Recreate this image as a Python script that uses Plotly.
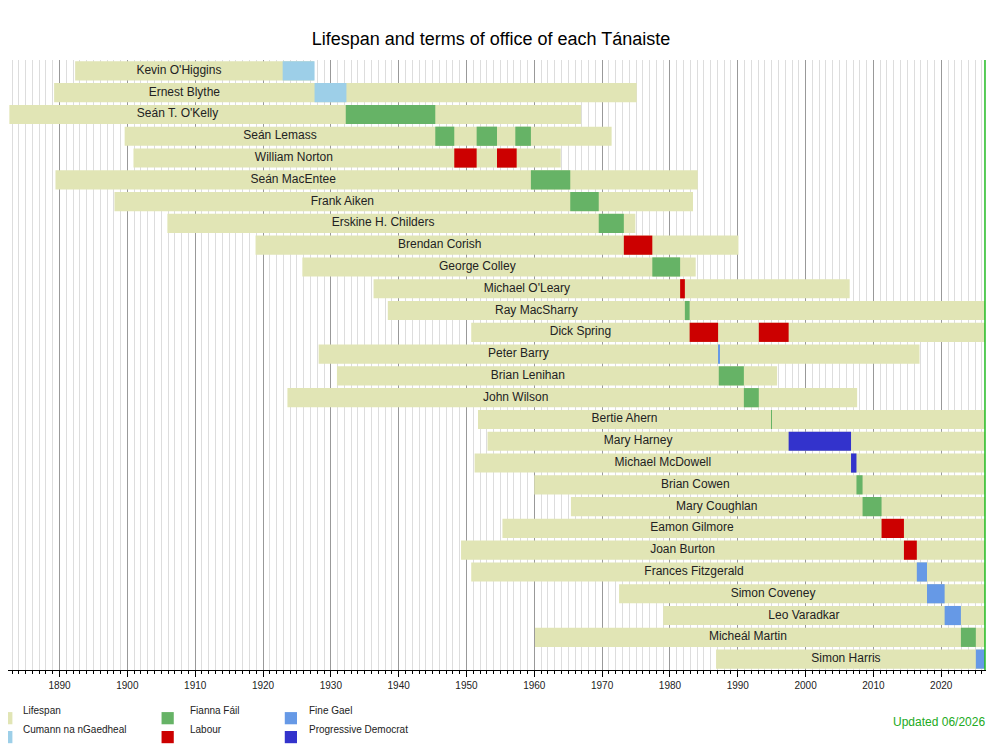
import plotly.graph_objects as go

names = ["Kevin O'Higgins","Ernest Blythe","Seán T. O'Kelly","Seán Lemass","William Norton","Seán MacEntee",
         "Frank Aiken","Erskine H. Childers","Brendan Corish","George Colley","Michael O'Leary","Ray MacSharry",
         "Dick Spring","Peter Barry","Brian Lenihan","John Wilson","Bertie Ahern","Mary Harney","Michael McDowell",
         "Brian Cowen","Mary Coughlan","Eamon Gilmore","Joan Burton","Frances Fitzgerald","Simon Coveney",
         "Leo Varadkar","Micheál Martin","Simon Harris"]
NOW = 2026.45
born = [1892.3,1889.2,1882.6,1899.6,1900.9,1889.4,1898.1,1905.9,1918.9,1925.8,1936.3,1938.4,1950.7,1928.2,
        1930.9,1923.6,1951.7,1953.1,1951.2,1960.0,1965.4,1955.3,1949.2,1950.7,1972.5,1979.0,1960.1,1986.8]
died = [1927.5,1975.1,1966.9,1971.4,1963.9,1984.1,1983.4,1974.9,1990.1,1983.8,2006.5,NOW,NOW,2016.8,1995.8,
        2007.6,NOW,NOW,NOW,NOW,NOW,NOW,NOW,NOW,NOW,NOW,NOW,NOW]

terms = {
    "Cumann na nGaedheal": [(0,1922.9,1927.6),(1,1927.6,1932.3)],
    "Fianna Fáil": [(2,1932.2,1945.4),(3,1945.4,1948.2),(3,1951.5,1954.5),(3,1957.2,1959.5),(5,1959.5,1965.3),
                    (6,1965.3,1969.5),(7,1969.5,1973.2),(9,1977.4,1981.5),(11,1982.2,1982.9),(14,1987.2,1990.9),
                    (15,1990.9,1993.1),(16,1994.9,1995.0),(19,2007.5,2008.4),(20,2008.4,2011.2),(26,2022.9,2025.1)],
    "Labour": [(4,1948.2,1951.5),(4,1954.5,1957.4),(8,1973.2,1977.4),(10,1981.5,1982.2),(12,1982.9,1987.1),
               (12,1993.1,1997.5),(21,2011.2,2014.5),(22,2014.5,2016.4)],
    "Fine Gael": [(13,1987.1,1987.3),(23,2016.4,2017.9),(24,2017.9,2020.5),(25,2020.5,2022.9),(27,2025.1,NOW)],
    "Progressive Democrat": [(17,1997.5,2006.7),(18,2006.7,2007.5)],
}
colors = {"Lifespan":"#e1e5b5","Cumann na nGaedheal":"#9dcfe8","Fianna Fáil":"#66b366","Labour":"#cc0000",
          "Fine Gael":"#6699e6","Progressive Democrat":"#3333cc"}

first_term = {}
for segs in terms.values():
    for i, s, e in segs:
        first_term[i] = min(first_term.get(i, 9999), s)
label_x = [(born[i] + first_term[i]) / 2 for i in range(len(names))]

fig = go.Figure()
fig.add_trace(go.Bar(y=names, base=born, x=[d-b for b,d in zip(born,died)], orientation="h",
                     marker=dict(color=colors["Lifespan"], line_width=0), showlegend=False))
for party, segs in terms.items():
    fig.add_trace(go.Bar(y=[names[i] for i,_,_ in segs], base=[s for _,s,_ in segs],
                         x=[e-s for _,s,e in segs], orientation="h",
                         marker=dict(color=colors[party], line_width=0), showlegend=False, hoverinfo="skip"))
fig.add_trace(go.Scatter(y=names, x=label_x, mode="text", text=names,
                         textposition="middle center", textfont=dict(size=12, color="#222"),
                         showlegend=False, hoverinfo="skip", cliponaxis=True))

fig.add_shape(type="line", x0=NOW, x1=NOW, y0=0, y1=1, yref="paper", line=dict(color="#22bb22", width=1.5))

legend_items = [("Lifespan",-0.008,0.0133,0),("Cumann na nGaedheal",-0.008,0.0133,1),
                ("Fianna Fáil",0.157,0.184,0),("Labour",0.157,0.184,1),
                ("Fine Gael",0.283,0.306,0),("Progressive Democrat",0.283,0.306,1)]
for lab,sx,tx,r in legend_items:
    y0 = -0.079 - r*0.031
    fig.add_shape(type="rect", xref="paper", yref="paper", x0=sx, x1=sx+0.0125,
                  y0=y0-0.01, y1=y0+0.01, fillcolor=colors[lab], line_width=0)
    fig.add_annotation(xref="paper", yref="paper", x=tx, y=y0, text=lab, showarrow=False,
                       xanchor="left", font=dict(size=10, color="#222"))
fig.add_annotation(xref="paper", yref="paper", x=1.001, y=-0.100, text="Updated 06/2026", showarrow=False,
                   xanchor="right", font=dict(size=12, color="#22aa22"))

fig.update_layout(
    width=1000, height=750, barmode="overlay", bargap=0.12,
    margin=dict(l=0, r=22, t=52, b=88),
    paper_bgcolor="white", plot_bgcolor="white",
    font=dict(family="Liberation Sans, Arial, sans-serif"),
    title=dict(text="Lifespan and terms of office of each Tánaiste", x=0.483, y=0.967,
               xanchor="center", font=dict(size=18, color="#000")),
    xaxis=dict(range=[1882.4, 2026.6], dtick=10, tick0=1890, showgrid=True, gridcolor="#999", gridwidth=1,
               ticks="outside", ticklen=6, tickcolor="#000", tickfont=dict(size=10, color="#222"),
               minor=dict(dtick=1, showgrid=True, gridcolor="#ddd", ticks="outside", ticklen=3, tickcolor="#000"),
               showline=True, linecolor="#000", zeroline=False),
    yaxis=dict(range=[len(names)-0.5, -0.5], showticklabels=False, showline=True, linecolor="#000",
               showgrid=False, ticks=""),
)
fig.write_html("out.html")
